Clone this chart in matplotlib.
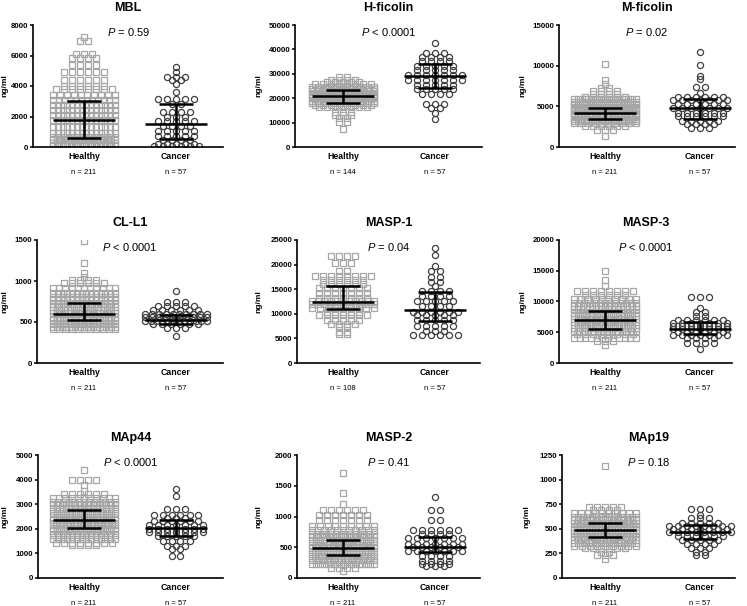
import numpy as np
import matplotlib.pyplot as plt

plt.rcParams['font.family'] = ['Liberation Sans', 'DejaVu Sans']
plt.rcParams['mathtext.fontset'] = 'custom'
plt.rcParams['mathtext.it'] = 'Liberation Sans:italic'
plt.rcParams['mathtext.rm'] = 'Liberation Sans'

titles = ["MBL", "H-ficolin", "M-ficolin", "CL-L1", "MASP-1", "MASP-3", "MAp44", "MASP-2", "MAp19"]
pvals = ["$P$ = 0.59", "$P$ < 0.0001", "$P$ = 0.02", "$P$ < 0.0001", "$P$ = 0.04",
         "$P$ < 0.0001", "$P$ < 0.0001", "$P$ = 0.41", "$P$ = 0.18"]
ymax = [8000, 50000, 15000, 1500, 25000, 20000, 5000, 2000, 1250]
ystep = [2000, 10000, 5000, 500, 5000, 5000, 1000, 500, 250]
groups = ["Healthy", "Cancer"]
n_healthy = [211, 144, 211, 211, 108, 211, 211, 211, 211]
n_cancer = [57, 57, 57, 57, 57, 57, 57, 57, 57]

# points, grouped by row: row value and number of points in the row
mbl_h_y = [7200, 6950, 6100, 5850, 5350, 4900, 4400, 4000, 3800, 3400, 3050, 2750, 2400, 2100, 1750, 1300, 950, 650, 450, 280, 100]
mbl_h_n = [1, 2, 3, 4, 4, 6, 6, 6, 8, 10, 12, 14, 14, 14, 14, 14, 14, 16, 18, 17, 14]
mbl_c_y = [5250, 4950, 4600, 4400, 4150, 3600, 3150, 2800, 2300, 2000, 1700, 1400, 1050, 750, 450, 200, 60]
mbl_c_n = [1, 1, 3, 2, 1, 1, 5, 2, 4, 3, 5, 4, 5, 5, 4, 5, 6]

hfic_h_y = [28500, 27500, 26600, 25700, 24700, 23800, 22800, 21900, 20900, 19900, 19000, 18000, 17100, 16300, 14500, 13100, 11700, 10100, 7200]
hfic_h_n = [2, 4, 5, 8, 10, 12, 14, 14, 14, 13, 12, 10, 8, 7, 3, 3, 2, 2, 1]
hfic_c_y = [42800, 38500, 37000, 35200, 33300, 31500, 29500, 27400, 25400, 23600, 21600, 17500, 15800, 14100, 11300]
hfic_c_n = [1, 3, 4, 4, 5, 5, 7, 7, 5, 5, 4, 3, 2, 1, 1]

mfic_h_y = [10200, 8200, 7700, 7200, 6900, 6500, 6100, 5850, 5500, 5250, 4950, 4670, 4400, 4100, 3800, 3500, 3250, 2950, 2600, 2100, 1400]
mfic_h_n = [1, 1, 1, 2, 4, 4, 6, 16, 16, 17, 18, 18, 19, 18, 18, 16, 16, 10, 6, 3, 1]
mfic_c_y = [11700, 10100, 8700, 8300, 7400, 6700, 6200, 5800, 5250, 4750, 4200, 3800, 3250, 2800, 2300]
mfic_c_n = [1, 1, 1, 1, 2, 1, 6, 7, 6, 7, 6, 6, 5, 4, 3]

cll1_h_y = [1490, 1220, 1100, 1050, 1010, 970, 910, 855, 805, 765, 725, 685, 645, 605, 565, 520, 475, 440, 410]
cll1_h_n = [1, 1, 1, 1, 4, 6, 11, 14, 14, 14, 14, 16, 16, 18, 18, 18, 18, 15, 11]
cll1_c_y = [880, 740, 690, 645, 595, 555, 515, 475, 430, 325]
cll1_c_n = [1, 3, 5, 6, 10, 10, 12, 6, 3, 1]

masp1_h_y = [21700, 20400, 18600, 17700, 16900, 16100, 15200, 14300, 13300, 12600, 11900, 11200, 10400, 9800, 8800, 8000, 7300, 6200, 5800]
masp1_h_n = [4, 3, 2, 8, 6, 6, 7, 7, 7, 11, 11, 9, 5, 7, 5, 4, 2, 2, 2]
masp1_c_y = [23400, 22000, 19800, 18600, 17400, 16500, 15700, 14700, 13600, 12700, 11600, 10400, 9700, 8800, 7600, 6500, 5700]
masp1_c_n = [1, 1, 1, 2, 2, 2, 1, 4, 4, 5, 4, 6, 5, 5, 5, 3, 6]

masp3_h_y = [15000, 13500, 12600, 11700, 11000, 10400, 9800, 9300, 8700, 8200, 7700, 7200, 6700, 6200, 5700, 5200, 4700, 4000, 3500, 3000]
masp3_h_n = [1, 1, 1, 8, 6, 10, 13, 15, 15, 17, 17, 18, 18, 17, 16, 14, 8, 12, 3, 1]
masp3_c_y = [10800, 9000, 8300, 7600, 7000, 6500, 6000, 5500, 5000, 4500, 4000, 3200, 2200]
masp3_c_n = [3, 1, 2, 2, 6, 7, 7, 7, 6, 7, 4, 4, 1]

map44_h_y = [4400, 4000, 3800, 3550, 3400, 3250, 3100, 2950, 2800, 2650, 2500, 2350, 2200, 2050, 1900, 1750, 1580, 1420, 1330]
map44_h_n = [1, 4, 1, 1, 6, 11, 13, 15, 15, 17, 17, 18, 19, 17, 16, 14, 14, 8, 4]
map44_c_y = [3600, 3330, 2800, 2550, 2450, 2300, 2150, 2000, 1850, 1700, 1500, 1300, 1180, 900]
map44_c_n = [1, 1, 3, 6, 3, 6, 7, 7, 7, 5, 4, 3, 2, 2]

masp2_h_y = [1700, 1380, 1200, 1100, 1030, 950, 840, 780, 720, 660, 600, 540, 480, 420, 360, 300, 220, 160, 110]
masp2_h_n = [1, 1, 1, 6, 7, 7, 9, 11, 14, 16, 16, 18, 22, 22, 20, 18, 17, 4, 1]
masp2_c_y = [1320, 1100, 950, 780, 720, 650, 560, 500, 440, 350, 280, 220, 190]
masp2_c_n = [1, 2, 2, 6, 4, 7, 7, 6, 7, 4, 4, 4, 3]

map19_h_y = [1140, 720, 690, 660, 625, 590, 555, 520, 490, 455, 420, 390, 360, 330, 300, 260, 230, 195]
map19_h_n = [1, 5, 4, 10, 15, 17, 19, 21, 22, 22, 20, 18, 16, 9, 6, 2, 3, 1]
map19_c_y = [700, 640, 610, 560, 530, 500, 470, 430, 390, 350, 300, 260, 230]
map19_c_n = [3, 1, 3, 5, 8, 7, 8, 6, 5, 4, 3, 2, 2]

# median and interquartile range (q1, median, q3)
healthy_stats = [[600, 1800, 3000], [18000, 21000, 23500], [3500, 4200, 4800],
                 [520, 600, 730], [11000, 12400, 15600], [5600, 7000, 8500],
                 [2030, 2350, 2780], [380, 490, 620], [420, 490, 555]]
cancer_stats = [[550, 1500, 2800], [24000, 29000, 34000], [3400, 4800, 5900],
                [480, 520, 590], [8500, 10800, 14500], [4700, 5500, 6600],
                [1700, 2020, 2350], [420, 500, 660], [400, 470, 540]]

healthy_rows = [(mbl_h_y, mbl_h_n), (hfic_h_y, hfic_h_n), (mfic_h_y, mfic_h_n),
                (cll1_h_y, cll1_h_n), (masp1_h_y, masp1_h_n), (masp3_h_y, masp3_h_n),
                (map44_h_y, map44_h_n), (masp2_h_y, masp2_h_n), (map19_h_y, map19_h_n)]
cancer_rows = [(mbl_c_y, mbl_c_n), (hfic_c_y, hfic_c_n), (mfic_c_y, mfic_c_n),
               (cll1_c_y, cll1_c_n), (masp1_c_y, masp1_c_n), (masp3_c_y, masp3_c_n),
               (map44_c_y, map44_c_n), (masp2_c_y, masp2_c_n), (map19_c_y, map19_c_n)]

W, H = 747, 606
fig = plt.figure(figsize=(W / 100, H / 100), dpi=100)

# layout in pixels
lefts = [33, 295, 559, 37, 297, 559, 38, 297, 562]
rights = [223, 482, 735, 223, 480, 732, 223, 480, 735]
tops = [25, 240, 455]
bottoms = [147, 363, 578]
centers = [(84, 176), (343, 435), (605, 700)]
ylabel_x = [5, 259, 523, 5, 259, 523, 5, 259, 527]


def swarm(ax, x0, rows, counts, px, step_px, marker, color, ms):
    step = step_px * px
    half = 31 * px
    xs, ys = [], []
    for y, c in zip(rows, counts):
        d = step if c < 2 else min(step, 2 * half / (c - 1))
        off = (np.arange(c) - (c - 1) / 2) * d
        xs.extend(x0 + off)
        ys.extend([y] * c)
    ax.plot(xs, ys, ls='none', marker=marker, mfc='none', mec=color, ms=ms, mew=0.9, zorder=2)


def bars(ax, x0, st, px):
    q1, med, q3 = st
    ax.hlines(med, x0 - 31 * px, x0 + 31 * px, color='k', lw=1.8, zorder=3)
    ax.vlines(x0, q1, q3, color='k', lw=1.8, zorder=3)
    ax.hlines([q1, q3], x0 - 17 * px, x0 + 17 * px, color='k', lw=1.8, zorder=3)


for i in range(9):
    r, c = divmod(i, 3)
    l, rr = lefts[i], rights[i]
    ax = fig.add_axes([l / W, 1 - bottoms[r] / H, (rr - l) / W, (bottoms[r] - tops[r]) / H])
    c0, c1 = centers[c]
    px = 1.0 / (c1 - c0)
    ax.set_xlim(-(c0 - l) * px, (rr - c0) * px)
    ax.set_ylim(0, ymax[i])

    swarm(ax, 0, healthy_rows[i][0], healthy_rows[i][1], px, 8, 's', '#a6a6a6', 4.0)
    swarm(ax, 1, cancer_rows[i][0], cancer_rows[i][1], px, 9, 'o', '#404040', 4.4)
    bars(ax, 0, healthy_stats[i], px)
    bars(ax, 1, cancer_stats[i], px)

    for s in ['top', 'right']:
        ax.spines[s].set_visible(False)
    for s in ['left', 'bottom']:
        ax.spines[s].set_linewidth(1.2)
    ax.set_xticks([])
    ax.set_yticks(np.arange(0, ymax[i] + 1, ystep[i]))
    ax.tick_params(axis='y', length=2.5, width=1.1, pad=0.8, labelsize=5.7)
    for t in ax.get_yticklabels():
        t.set_fontweight('bold')

    # y label placed at fixed pixel position like the original
    fig.text(ylabel_x[i] / W, 1 - (tops[r] + bottoms[r]) / 2 / H, "ng/ml", rotation=90,
             ha='center', va='center', fontsize=6, fontweight='bold')

    ax.text(0.5, 1.14, titles[i], transform=ax.transAxes, ha='center', va='center',
            fontsize=9, fontweight='bold')
    ax.text(0.5, 0.945, pvals[i], transform=ax.transAxes, ha='center', va='center', fontsize=8)

    tr = ax.get_xaxis_transform()
    ax.text(0, -0.08, groups[0], transform=tr, ha='center', va='center', fontsize=6.3, fontweight='bold')
    ax.text(1, -0.08, groups[1], transform=tr, ha='center', va='center', fontsize=6.3, fontweight='bold')
    ax.text(0, -0.21, "n = %d" % n_healthy[i], transform=tr, ha='center', va='center', fontsize=5.5)
    ax.text(1, -0.21, "n = %d" % n_cancer[i], transform=tr, ha='center', va='center', fontsize=5.5)

fig.savefig("out.png", dpi=100)
